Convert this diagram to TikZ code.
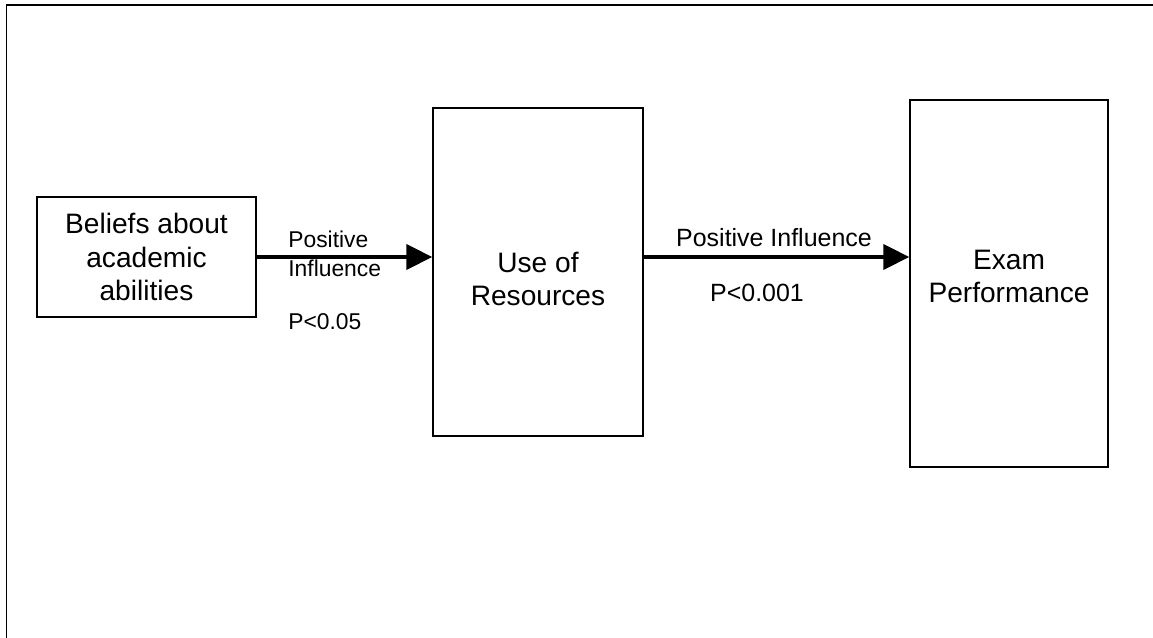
\documentclass[tikz,border=0pt]{standalone}
\usepackage{fontspec}
\setmainfont{Liberation Sans}
\usepackage{tikz}
\usetikzlibrary{arrows.meta}
\usepackage{xcolor}

\begin{document}
\begin{tikzpicture}[>={Triangle[length=5.2mm,width=5mm]},line cap=butt,
  box/.style={draw,line width=0.8pt,inner sep=0pt,align=center,font=\fontsize{16}{19.3}\selectfont},
  boxtxt/.style={inner sep=0pt,align=center,font=\fontsize{16}{19.3}\selectfont},
  lbl/.style={inner sep=0pt,font=\fontsize{14.2}{17}\selectfont},
  link/.style={->,line width=2.3pt}]
\useasboundingbox (0,0) rectangle (23.06,12.76);
\draw[line width=1.1pt] (0.13,-0.5) -- (0.13,12.66) -- (23.6,12.66);
\node[box,minimum width=4.38cm,minimum height=2.4cm] (beliefs) at (2.93,7.62) {Beliefs about\\academic\\abilities};
\node[box,minimum width=4.2cm,minimum height=6.56cm,
  label={[boxtxt,yshift=-0.14cm]center:Use of\\Resources}] (resources) at (10.76,7.32) {};
\node[box,minimum width=3.96cm,minimum height=7.34cm,
  label={[boxtxt,yshift=0.14cm]center:Exam\\Performance}] (exam) at (20.18,7.09) {};
\draw[link] (beliefs.east) -- (beliefs.east -| resources.west);
\draw[link] (resources.east |- beliefs.east) -- (exam.west |- beliefs.east);
\node[lbl,anchor=north west,align=left,font=\fontsize{13}{16.3}\selectfont] (infA) at (5.76,8.14) {Positive\\Influence};
\node[lbl,anchor=west,font=\fontsize{13}{16.3}\selectfont] (pA) at (5.76,6.32) {P<0.05};
\node[lbl,anchor=base] (infB) at (15.48,7.82) {Positive Influence};
\node[lbl,anchor=base] (pB) at (15.14,6.72) {P<0.001};
\end{tikzpicture}
\end{document}
